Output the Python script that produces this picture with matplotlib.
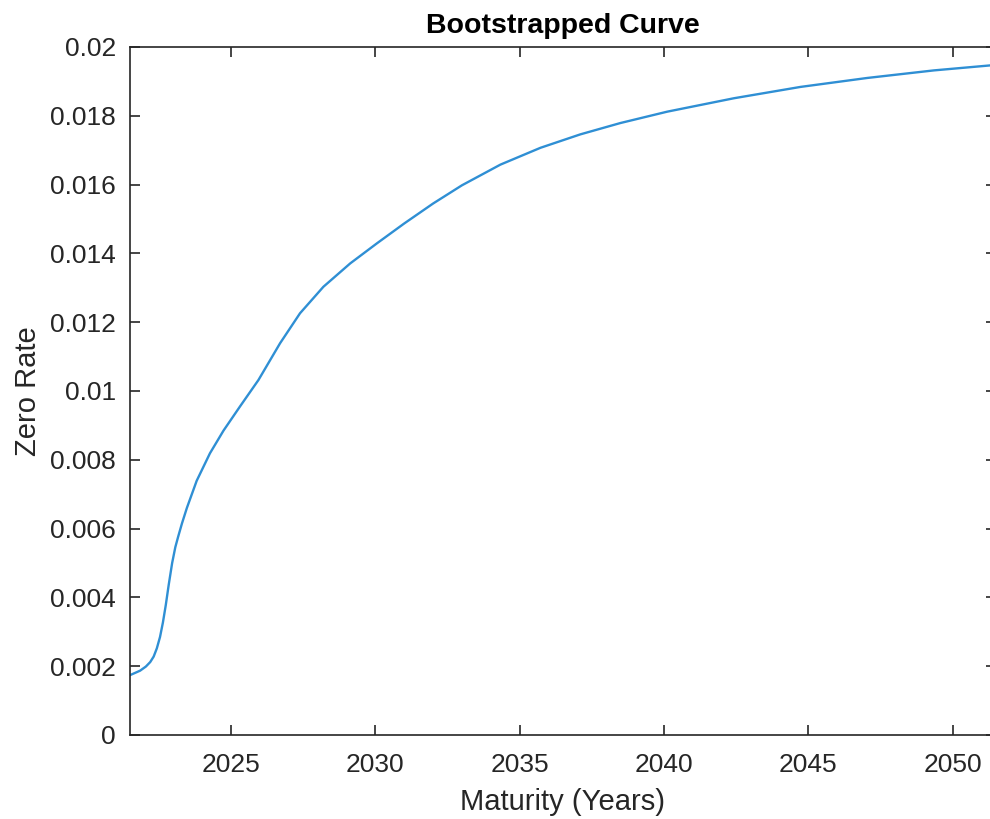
import matplotlib
matplotlib.use("Agg")
import matplotlib.pyplot as plt

# maturities (years) and zero rates
years = [2021.50, 2021.85, 2022.05, 2022.20, 2022.32, 2022.43, 2022.54, 2022.64,
         2022.74, 2022.84, 2022.96, 2023.07, 2023.17, 2023.30, 2023.47, 2023.81,
         2024.27, 2024.74, 2025.31, 2025.95, 2026.70, 2027.39, 2028.20, 2029.13,
         2030.05, 2031.00, 2032.00, 2033.00, 2034.33, 2035.72, 2037.10, 2038.49,
         2040.11, 2042.42, 2044.73, 2047.04, 2049.35, 2051.50]
rates = [0.00174, 0.00187, 0.00199, 0.00212, 0.00228, 0.00252, 0.00285, 0.00327,
         0.00378, 0.00436, 0.00500, 0.00546, 0.00577, 0.00615, 0.00660, 0.00739,
         0.00819, 0.00885, 0.00955, 0.01032, 0.01139, 0.01226, 0.01303, 0.01371,
         0.01429, 0.01487, 0.01545, 0.01598, 0.01658, 0.01707, 0.01746, 0.01779,
         0.01812, 0.01851, 0.01884, 0.01910, 0.01932, 0.01948]

xticks = [2025, 2030, 2035, 2040, 2045, 2050]
yticks = [0, 0.002, 0.004, 0.006, 0.008, 0.01, 0.012, 0.014, 0.016, 0.018, 0.02]
ylabels = ["0", "0.002", "0.004", "0.006", "0.008", "0.01", "0.012", "0.014",
           "0.016", "0.018", "0.02"]

plt.rcParams['font.family'] = ['Liberation Sans', 'DejaVu Sans']
dark = '#262626'

fig = plt.figure(figsize=(9.9, 8.19), dpi=100)
ax = fig.add_axes([130/990, 1-735/819, 866/990, 688/819])

ax.plot(years, rates, color='#2f8fd4', lw=1.7)

ax.set_xlim(2021.5, 2051.5)
ax.set_ylim(0, 0.02)
ax.set_xticks(xticks)
ax.set_yticks(yticks)
ax.set_yticklabels(ylabels)
ax.tick_params(direction='in', top=True, right=True, length=7, width=1.2,
               colors=dark, labelsize=19, pad=10)
ax.tick_params(axis='x', pad=13)
for s in ax.spines.values():
    s.set_color(dark)
    s.set_linewidth(1.2)

ax.set_title("Bootstrapped Curve", fontsize=20.5, fontweight='bold', color='black', pad=10)
ax.set_xlabel("Maturity (Years)", fontsize=21, color=dark, labelpad=8)
ax.set_ylabel("Zero Rate", fontsize=21, color=dark, labelpad=6)

fig.savefig("out.png", dpi=100)
